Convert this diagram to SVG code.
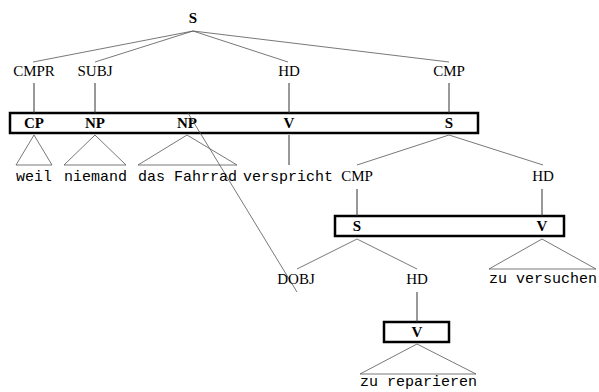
<svg xmlns="http://www.w3.org/2000/svg" width="599" height="392" viewBox="0 0 599 392">
  <style>
    .edge { stroke: #555; stroke-width: 0.8; fill: none; }
    .stem { stroke: #333; stroke-width: 1; fill: none; }
    .box { fill: #fff; stroke: #000; stroke-width: 2.5; }
    .lbl { font-family: "Liberation Serif", "DejaVu Serif", serif; font-size: 15px; text-anchor: middle; fill: #000; }
    .cat { font-family: "Liberation Serif", "DejaVu Serif", serif; font-size: 15px; font-weight: bold; text-anchor: middle; fill: #000; }
    .word { font-family: "Liberation Mono", "DejaVu Sans Mono", monospace; font-size: 15px; fill: #000; }
  </style>
  <rect width="599" height="392" fill="#fff"/>

  <!-- boxed daughter sequences -->
  <g id="box-top">
    <rect class="box" x="10" y="113" width="468" height="20"/>
    <text class="cat" x="34" y="128">CP</text>
    <text class="cat" x="95" y="128">NP</text>
    <text class="cat" x="187" y="128">NP</text>
    <text class="cat" x="289" y="128">V</text>
    <text class="cat" x="449" y="128">S</text>
  </g>
  <g id="box-mid">
    <rect class="box" x="335" y="216" width="229" height="20"/>
    <text class="cat" x="357" y="231">S</text>
    <text class="cat" x="542" y="231">V</text>
  </g>
  <g id="box-low">
    <rect class="box" x="384" y="322" width="65" height="20"/>
    <text class="cat" x="417" y="337">V</text>
  </g>

  <!-- connectors -->
  <g id="connectors">
    <line class="edge" x1="193" y1="31" x2="33" y2="62"/>
    <line class="edge" x1="193" y1="31" x2="95" y2="62"/>
    <line class="edge" x1="193" y1="31" x2="288" y2="62"/>
    <line class="edge" x1="193" y1="31" x2="449" y2="62"/>
    <line class="stem" x1="34" y1="83" x2="34" y2="113"/>
    <line class="stem" x1="95" y1="83" x2="95" y2="113"/>
    <line class="stem" x1="289" y1="83" x2="289" y2="113"/>
    <line class="stem" x1="449" y1="83" x2="449" y2="113"/>
    <polygon class="edge" points="34,135 16,165 52,165"/>
    <polygon class="edge" points="95,135 64,165 126,165"/>
    <polygon class="edge" points="187,135 138,165 237,165"/>
    <line class="stem" x1="289" y1="135" x2="289" y2="165"/>
    <line class="edge" x1="449" y1="135" x2="357" y2="165"/>
    <line class="edge" x1="449" y1="135" x2="543" y2="165"/>
    <line class="stem" x1="357" y1="189" x2="357" y2="216"/>
    <line class="stem" x1="542" y1="189" x2="542" y2="216"/>
    <line class="edge" x1="357" y1="239" x2="297" y2="269"/>
    <line class="edge" x1="357" y1="239" x2="417" y2="269"/>
    <polygon class="edge" points="542,239 489,269 596,269"/>
    <line class="stem" x1="417" y1="292" x2="417" y2="322"/>
    <polygon class="edge" points="417,344 360,374 476,374"/>
    <line class="edge" x1="188" y1="113" x2="297" y2="292"/>
  </g>

  <!-- labels -->
  <g id="root"><text class="cat" x="193" y="23">S</text></g>
  <g id="cmpr"><text class="lbl" x="34" y="76">CMPR</text></g>
  <g id="subj"><text class="lbl" x="95" y="76">SUBJ</text></g>
  <g id="hd1"><text class="lbl" x="289" y="76">HD</text></g>
  <g id="cmp1"><text class="lbl" x="449" y="76">CMP</text></g>
  <g id="cmp2"><text class="lbl" x="357" y="181">CMP</text></g>
  <g id="hd2"><text class="lbl" x="543" y="181">HD</text></g>
  <g id="dobj"><text class="lbl" x="296" y="284">DOBJ</text></g>
  <g id="hd3"><text class="lbl" x="417" y="284">HD</text></g>

  <!-- words -->
  <g id="w-weil"><text class="word" x="16" y="181">weil</text></g>
  <g id="w-niemand"><text class="word" x="64" y="181">niemand</text></g>
  <g id="w-fahrrad"><text class="word" x="138" y="181">das Fahrrad</text></g>
  <g id="w-verspricht"><text class="word" x="243" y="181">verspricht</text></g>
  <g id="w-versuchen"><text class="word" x="489" y="283">zu versuchen</text></g>
  <g id="w-reparieren"><text class="word" x="360" y="386">zu reparieren</text></g>
</svg>
